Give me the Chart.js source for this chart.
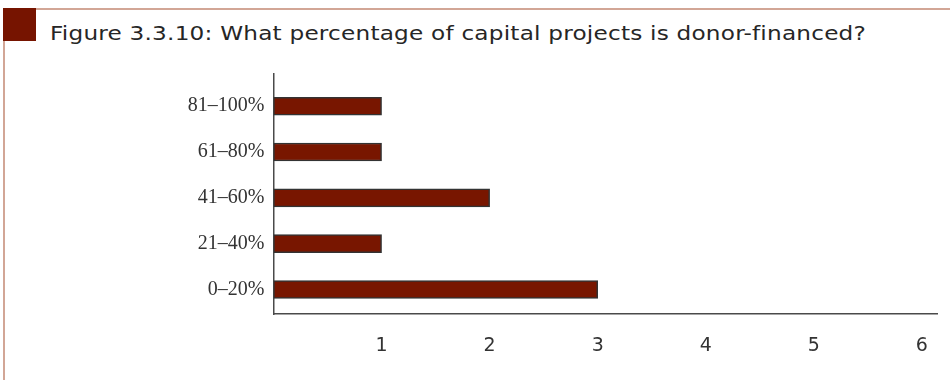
<!DOCTYPE html>
<html>
<head>
<meta charset="utf-8">
<script src="https://cdn.jsdelivr.net/npm/chart.js@4/dist/chart.umd.min.js"></script>
<style>
  html, body { margin: 0; padding: 0; background: #fff; }
  #wrap { position: relative; width: 950px; height: 380px; overflow: hidden; }
  #frameTop { position: absolute; left: 3px; top: 8px; width: 947px; height: 1.5px; background: #d2a696; }
  #frameLeft { position: absolute; left: 3px; top: 8px; width: 1.5px; height: 372px; background: #d2a696; }
  #marker { position: absolute; left: 3px; top: 8px; width: 33px; height: 33px; background: #761400; }
  #title { position: absolute; left: 50px; top: 21px; font-family: "DejaVu Sans", sans-serif; font-size: 19px; letter-spacing: 0.17px; color: #262626; white-space: nowrap; line-height: 24px; transform: scaleX(1.22); transform-origin: 0 0; }
  canvas { position: absolute; left: 0; top: 0; }
</style>
</head>
<body>
<div id="wrap">
  <div id="frameTop"></div>
  <div id="frameLeft"></div>
  <div id="marker"></div>
  <div id="title">Figure 3.3.10: What percentage of capital projects is donor-financed?</div>
  <canvas id="chart" width="950" height="380"></canvas>
</div>
<script>
// Share of capital project funding that comes from donors (bottom to top)
const categories = ["0–20%", "21–40%", "41–60%", "61–80%", "81–100%"];
const counts = [3, 1, 2, 1, 1];
const xTicks = [1, 2, 3, 4, 5, 6];

const points = categories.map((c, i) => ({ x: counts[i], y: i }));

new Chart(document.getElementById('chart'), {
  type: 'bar',
  data: {
    datasets: [{
      data: points,
      backgroundColor: '#781600',
      borderColor: '#333333',
      borderWidth: 1.5,
      borderSkipped: false,
      barThickness: 18
    }]
  },
  options: {
    indexAxis: 'y',
    responsive: false,
    animation: false,
    layout: { padding: { left: 0, right: 13, top: 74, bottom: 0 } },
    plugins: { legend: { display: false }, tooltip: { enabled: false } },
    scales: {
      x: {
        type: 'linear',
        min: 0,
        max: 6.14,
        offset: false,
        grid: { display: false, drawTicks: false },
        border: { display: true, color: '#4a4a4a', width: 1.5 },
        afterBuildTicks: (scale) => { scale.ticks = xTicks.map(v => ({ value: v })); },
        afterFit: (scale) => { scale.height = 66; },
        ticks: {
          padding: 21,
          color: '#333',
          font: { family: '"DejaVu Sans", sans-serif', size: 19 }
        }
      },
      y: {
        type: 'linear',
        min: -0.535,
        max: 4.703,
        offset: false,
        grid: { display: false, drawTicks: false },
        border: { display: true, color: '#4a4a4a', width: 1.5 },
        afterBuildTicks: (scale) => { scale.ticks = categories.map((c, i) => ({ value: i })); },
        afterFit: (scale) => { scale.width = 273.5; },
        ticks: {
          padding: 9,
          color: '#333',
          font: { family: '"Liberation Serif", serif', size: 20 },
          callback: (v) => categories[v]
        }
      }
    }
  }
});
</script>
</body>
</html>
